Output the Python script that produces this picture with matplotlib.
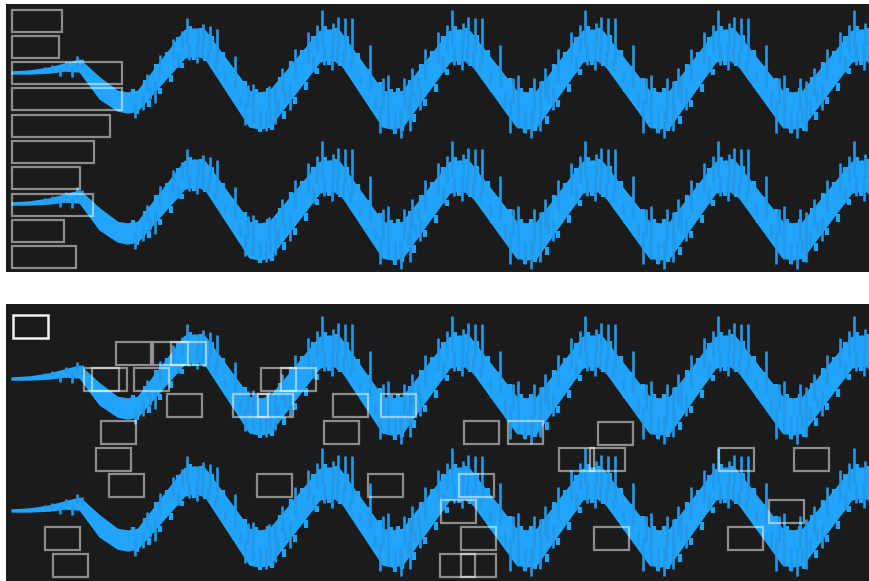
import numpy as np
import matplotlib
matplotlib.use("Agg")
import matplotlib.pyplot as plt
from matplotlib.patches import Rectangle

# ---------------- data ----------------
# shared waveform, x in samples (pixel-like), y relative to trace baseline (positive = down)
ramp_x = [12, 30, 50, 65, 80, 100]
ramp_top = [-1, -2, -5, -9, -13, 5]
ramp_bot = [1, 1, 0, -2, -1, 26]

trough_x = [128, 260, 393, 527, 660, 793]
trough_top = [20, 20, 20, 20, 20, 20]
trough_bot = [40, 56, 56, 56, 56, 56]
peak_x = [195, 330, 460, 593, 726, 862]
peak_top = [-44, -43, -43, -43, -43, -43]
peak_bot = [-17, -13, -13, -13, -13, -13]
peak_gain = [0.75, 1.0, 1.0, 1.0, 1.0, 1.0]

# spike pattern around each peak (offset from peak, tip relative to baseline)
up_dx = [-48, -35, -22, -13, -8, 3, 8, 15, 22, 40, 53, 58, 74, 80, 88]
up_tip = [-5, -24, -41, -48, -63, -50, -56, -55, -55, -28, 5, 2, 5, 8, 4]
down_dx = [-60, -52, -45, -40, -17, -6, 2, 7, 13, 20, 30, 45, 50, 58, 65, 71, 80]
down_tip = [50, 42, 30, 37, -1, -8, -3, -10, -6, -2, 10, 35, 60, 55, 60, 65, 58]
# chunky steps along the band edges (offset from peak, protrusion beyond edge)
edge_dx = [-62, -50, -39, -28, -17, -5, 6, 17, 28, 39, 50, 61]
edge_up = [4, 3, 5, 3, 4, 5, 3, 5, 4, 3, 5, 4]
edge_dn = [3, 5, 4, 5, 3, 4, 5, 3, 5, 4, 3, 5]
ramp_spike_x = [45, 52, 60, 66, 72, 77, 82]
ramp_spike_tip = [-6, -8, 3, -12, 4, -17, -14]

# trace baselines (absolute rows)
trace_base = [73, 204, 379, 511]

# top-panel horizontal bars
bar_values = [50, 47, 110, 110, 98, 82, 68, 81, 52, 64]

# bottom-panel boxes (left, top)
box_left = [115, 152, 170, 83, 91, 133, 260, 280, 166, 232, 257, 332, 380,
            100, 323, 463, 507, 597, 95, 558, 589, 718, 793, 108, 256, 367, 458,
            440, 768, 44, 460, 593, 727, 52, 439, 460]
box_top = [341, 341, 341, 367, 367, 367, 367, 367, 393, 393, 393, 393, 393,
           420, 420, 420, 420, 421, 447, 447, 447, 447, 447, 473, 473, 473, 473,
           499, 499, 526, 526, 526, 526, 553, 553, 553]
legend_box = (12, 314)

# ---------------- style ----------------
BG = "#1b1b1b"
BLUE = "#21a4fb"
SPIKE = "#2399e8"
EDGE = (1, 1, 1, 0.5)

W, H = 870, 581
fig = plt.figure(figsize=(W / 100, H / 100), dpi=100, facecolor="white")


def make_ax(x0, y0, x1, y1):
    ax = fig.add_axes([x0 / W, 1 - y1 / H, (x1 - x0) / W, (y1 - y0) / H])
    ax.set_facecolor(BG)
    ax.set_xlim(x0, x1)
    ax.set_ylim(y1, y0)
    ax.set_axis_off()
    ax.add_patch(Rectangle((x0, y0), x1 - x0, y1 - y0, facecolor=BG, edgecolor="none", zorder=0))
    return ax


# envelope vertices: ramp, then slightly rounded extremes
SH = 10
vx = list(ramp_x)
vt = list(ramp_top)
vb = list(ramp_bot)
pairs = sorted([(x, t, b, 1) for x, t, b in zip(trough_x, trough_top, trough_bot)] +
               [(x, t, b, -1) for x, t, b in zip(peak_x, peak_top, peak_bot)])
for x, t, b, s in pairs:
    vx += [x - SH, x, x + SH]
    vt += [t - 1.5 * s, t, t - 1.5 * s]
    vb += [b - 2 * s, b, b - 2 * s]
vx.append(900)
vt.append(-25)
vb.append(5)
vx = np.array(vx, float)
vt = np.array(vt, float)
vb = np.array(vb, float)
vc = (vt + vb) / 2


def draw_trace(ax, base):
    ax.fill_between(vx, base + vt, base + vb, color=BLUE, lw=1.0, edgecolor=BLUE, zorder=2)
    # chunky edge steps
    xs, y0s, y1s = [], [], []
    for px, g in zip(peak_x, peak_gain):
        for dx, u, d in zip(edge_dx, edge_up, edge_dn):
            x = px + dx
            if x < 105:
                continue
            t = np.interp(x, vx, vt)
            b = np.interp(x, vx, vb)
            xs += [x, x + 4]
            y0s += [base + t + 3, base + b - 3]
            y1s += [base + t - u * g, base + b + d * g]
    ax.vlines(xs, y0s, y1s, color=BLUE, lw=3.0, zorder=2)
    # long spikes
    xs, y0s, y1s = [], [], []
    for px, g in zip(peak_x, peak_gain):
        for dx, tip in zip(up_dx + down_dx, up_tip + down_tip):
            x = px + dx
            c = np.interp(x, vx, vc)
            xs.append(x)
            y0s.append(base + c)
            y1s.append(base + c + (tip - c) * g)
    for x, tip in zip(ramp_spike_x, ramp_spike_tip):
        c = np.interp(x, vx, vc)
        xs.append(x)
        y0s.append(base + c)
        y1s.append(base + tip)
    ax.vlines(xs, y0s, y1s, color=SPIKE, lw=1.9, zorder=2)


top = make_ax(6, 4, 870, 272)
bot = make_ax(6, 304, 870, 581)

for b in trace_base[:2]:
    draw_trace(top, b)
for b in trace_base[2:]:
    draw_trace(bot, b)

# horizontal bars (outline only)
row0, pitch, bh = 20.5, 26.3, 22
rows = [row0 + i * pitch for i in range(len(bar_values))]
top.barh(rows, bar_values, left=12, height=bh, fill=False, edgecolor=EDGE, linewidth=1.6, zorder=3)

# boxes
bw, bhh = 35, 23
for x, y in zip(box_left, box_top):
    bot.add_patch(Rectangle((x + 1, y + 1), bw, bhh, fill=False, edgecolor=EDGE, lw=1.6, zorder=3))
bot.add_patch(Rectangle((legend_box[0] + 1, legend_box[1] + 1), bw, bhh, fill=False,
                        edgecolor="#f2f2f2", lw=1.8, zorder=3))

fig.savefig("out.png", dpi=100, facecolor="white")
